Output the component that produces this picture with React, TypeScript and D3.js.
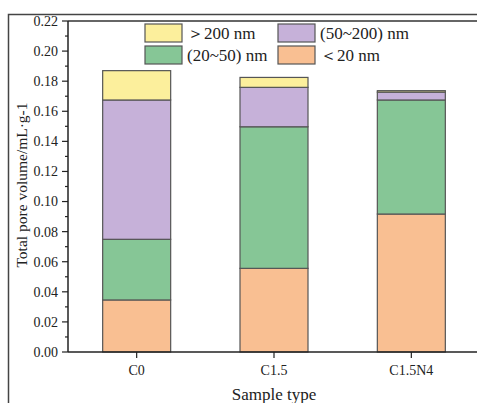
import React, { useEffect, useRef } from "react";
import * as d3 from "d3";

const samples = ["C0", "C1.5", "C1.5N4"];
// stacked from bottom: <20, 20~50, 50~200, >200 nm
const lt20 = [0.0346, 0.0556, 0.0917];
const mid20to50 = [0.0403, 0.0941, 0.0758];
const mid50to200 = [0.0926, 0.0262, 0.0052];
const gt200 = [0.0195, 0.0066, 0.001];
const seriesColors = ["#f9bf92", "#86c696", "#c6b1d9", "#fcef9c"];
const yTicks = [0, 0.02, 0.04, 0.06, 0.08, 0.1, 0.12, 0.14, 0.16, 0.18, 0.2, 0.22];

function App() {
  const ref = useRef<SVGSVGElement>(null);

  useEffect(() => {
    const svg = d3.select(ref.current);
    svg.selectAll("*").remove();
    const W = 477, H = 403;
    const m = { left: 68, top: 21, right: 480, bottom: 352 };
    const font = "'Liberation Serif', 'Times New Roman', serif";

    svg.append("rect").attr("width", W).attr("height", H).attr("fill", "#fff");

    // outer figure frame
    svg.append("path")
      .attr("d", `M8.5,${H} V14.5 H${W}`)
      .attr("fill", "none").attr("stroke", "#444").attr("stroke-width", 1.5);

    const x = d3.scaleLinear().domain([0.5, 3.5]).range([m.left, m.right]);
    const y = d3.scaleLinear().domain([0, 0.22]).range([m.bottom, m.top]);
    const barW = 68;

    const rows = samples.map((s, i) => ({
      s, i, v0: lt20[i], v1: mid20to50[i], v2: mid50to200[i], v3: gt200[i],
    }));
    const stacked = d3.stack<any>().keys(["v0", "v1", "v2", "v3"])(rows);

    stacked.forEach((layer, k) => {
      svg.append("g").selectAll("rect").data(layer).join("rect")
        .attr("x", (d: any) => x(d.data.i + 1) - barW / 2)
        .attr("width", barW)
        .attr("y", (d) => y(d[1]))
        .attr("height", (d) => y(d[0]) - y(d[1]))
        .attr("fill", seriesColors[k])
        .attr("stroke", "#555")
        .attr("stroke-width", 1.2);
    });

    // frame: top line and axes
    svg.append("line").attr("x1", m.left).attr("x2", W).attr("y1", m.top).attr("y2", m.top)
      .attr("stroke", "#333").attr("stroke-width", 1.5);
    svg.append("line").attr("x1", m.left).attr("x2", m.left).attr("y1", m.top).attr("y2", m.bottom)
      .attr("stroke", "#222").attr("stroke-width", 1.5);
    svg.append("line").attr("x1", m.left).attr("x2", W).attr("y1", m.bottom).attr("y2", m.bottom)
      .attr("stroke", "#222").attr("stroke-width", 1.5);

    // y ticks
    const minor = d3.range(0.01, 0.22, 0.02);
    svg.append("g").selectAll("line").data(minor).join("line")
      .attr("x1", m.left).attr("x2", m.left - 3)
      .attr("y1", (d) => y(d)).attr("y2", (d) => y(d))
      .attr("stroke", "#222").attr("stroke-width", 1.2);
    svg.append("g").selectAll("line").data(yTicks).join("line")
      .attr("x1", m.left).attr("x2", m.left - 6)
      .attr("y1", (d) => y(d)).attr("y2", (d) => y(d))
      .attr("stroke", "#222").attr("stroke-width", 1.2);
    svg.append("g").selectAll("text").data(yTicks).join("text")
      .attr("x", m.left - 10).attr("y", (d) => y(d)).attr("dy", "0.35em")
      .attr("text-anchor", "end").attr("font-family", font).attr("font-size", 14)
      .attr("fill", "#222")
      .text((d) => d3.format(".2f")(d));

    // x ticks
    svg.append("g").selectAll("line").data(samples).join("line")
      .attr("x1", (d, i) => x(i + 1)).attr("x2", (d, i) => x(i + 1))
      .attr("y1", m.bottom).attr("y2", m.bottom + 6)
      .attr("stroke", "#222").attr("stroke-width", 1.2);
    svg.append("g").selectAll("text").data(samples).join("text")
      .attr("x", (d, i) => x(i + 1)).attr("y", 375)
      .attr("text-anchor", "middle").attr("font-family", font).attr("font-size", 14)
      .attr("fill", "#222")
      .text((d) => d);

    // axis titles
    svg.append("text").attr("x", 274).attr("y", 400)
      .attr("text-anchor", "middle").attr("font-family", font).attr("font-size", 17)
      .attr("fill", "#222").text("Sample type");
    svg.append("text")
      .attr("transform", `translate(27,185) rotate(-90)`)
      .attr("text-anchor", "middle").attr("font-family", font).attr("font-size", 15.5)
      .attr("fill", "#222").text("Total pore volume/mL·g-1");

    // legend
    const legend = [
      { k: 3, label: "＞200 nm", lx: 145, ly: 24 },
      { k: 2, label: "(50~200) nm", lx: 278, ly: 24 },
      { k: 1, label: "(20~50) nm", lx: 145, ly: 46 },
      { k: 0, label: "＜20 nm", lx: 278, ly: 46 },
    ];
    const lg = svg.append("g").selectAll("g").data(legend).join("g")
      .attr("transform", (d) => `translate(${d.lx},${d.ly})`);
    lg.append("rect").attr("width", 37).attr("height", 18)
      .attr("fill", (d) => seriesColors[d.k]).attr("stroke", "#555").attr("stroke-width", 1.2);
    lg.append("text").attr("x", 42).attr("y", 15)
      .attr("font-family", font).attr("font-size", 17).attr("fill", "#222")
      .text((d) => d.label);
  }, []);

  return (
    <svg ref={ref} width={477} height={403}
      style={{ position: "absolute", left: 0, top: 0, display: "block" }} />
  );
}

export default App;
